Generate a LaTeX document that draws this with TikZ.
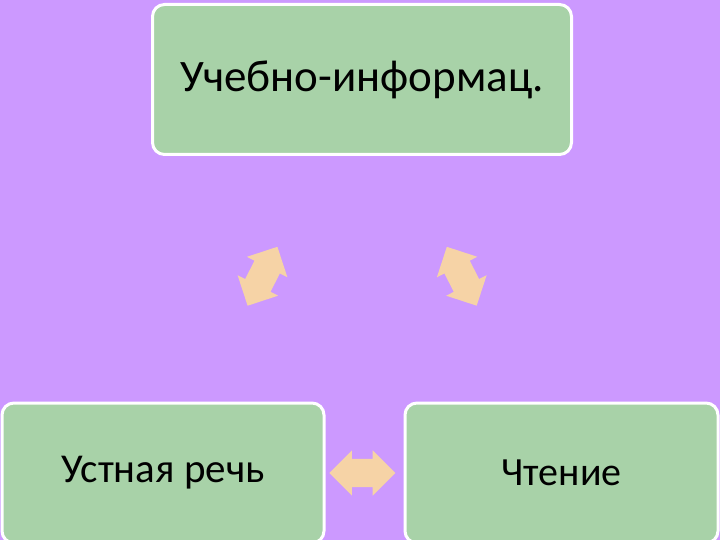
\documentclass[tikz,border=0pt]{standalone}
\usepackage{fontspec}
\setmainfont{Carlito}
\usepackage{xcolor}
\usepackage{tikz}
\usetikzlibrary{positioning,shapes.arrows}

\definecolor{bgviolet}{HTML}{CC99FF}
\definecolor{boxgreen}{HTML}{A8D2A8}
\definecolor{arrpeach}{HTML}{F6D3A6}

\tikzset{
  box/.style={draw=white, line width=3pt, fill=boxgreen, rounded corners=12pt, inner sep=0pt},
  dblarrow/.style={double arrow, fill=arrpeach, draw=none, inner sep=0pt,
    text height=14pt, text depth=14pt, text width=0pt, minimum height=66pt,
    double arrow head extend=8.5pt, double arrow tip angle=90}
}

\begin{document}
\begin{tikzpicture}[x=1pt, y=-1pt]
        \clip (0,0) rectangle (720,540);
        \fill[bgviolet] (0,0) rectangle (720,540);

        \node[box] (U) [minimum width=419pt, minimum height=150pt] at (362,79.5) {\fontsize{45}{54}\selectfont Учебно-информац.};
        \node[box] (S) [minimum width=322pt, minimum height=140pt] at (163,473) {\fontsize{41}{49}\selectfont Устная речь};
        \node[box] (C) [minimum width=313pt, minimum height=140pt, right = 78pt of S] {\fontsize{40}{48}\selectfont Чтение};

        \path
        (S.center) -- node[dblarrow, sloped] (a1) {} (U.center)
        (C.center) -- node[dblarrow, sloped] (a2) {} (U.center)
        (S.center) -- node[dblarrow, sloped] (a3) {} (C.center);
    \end{tikzpicture}
\end{document}
